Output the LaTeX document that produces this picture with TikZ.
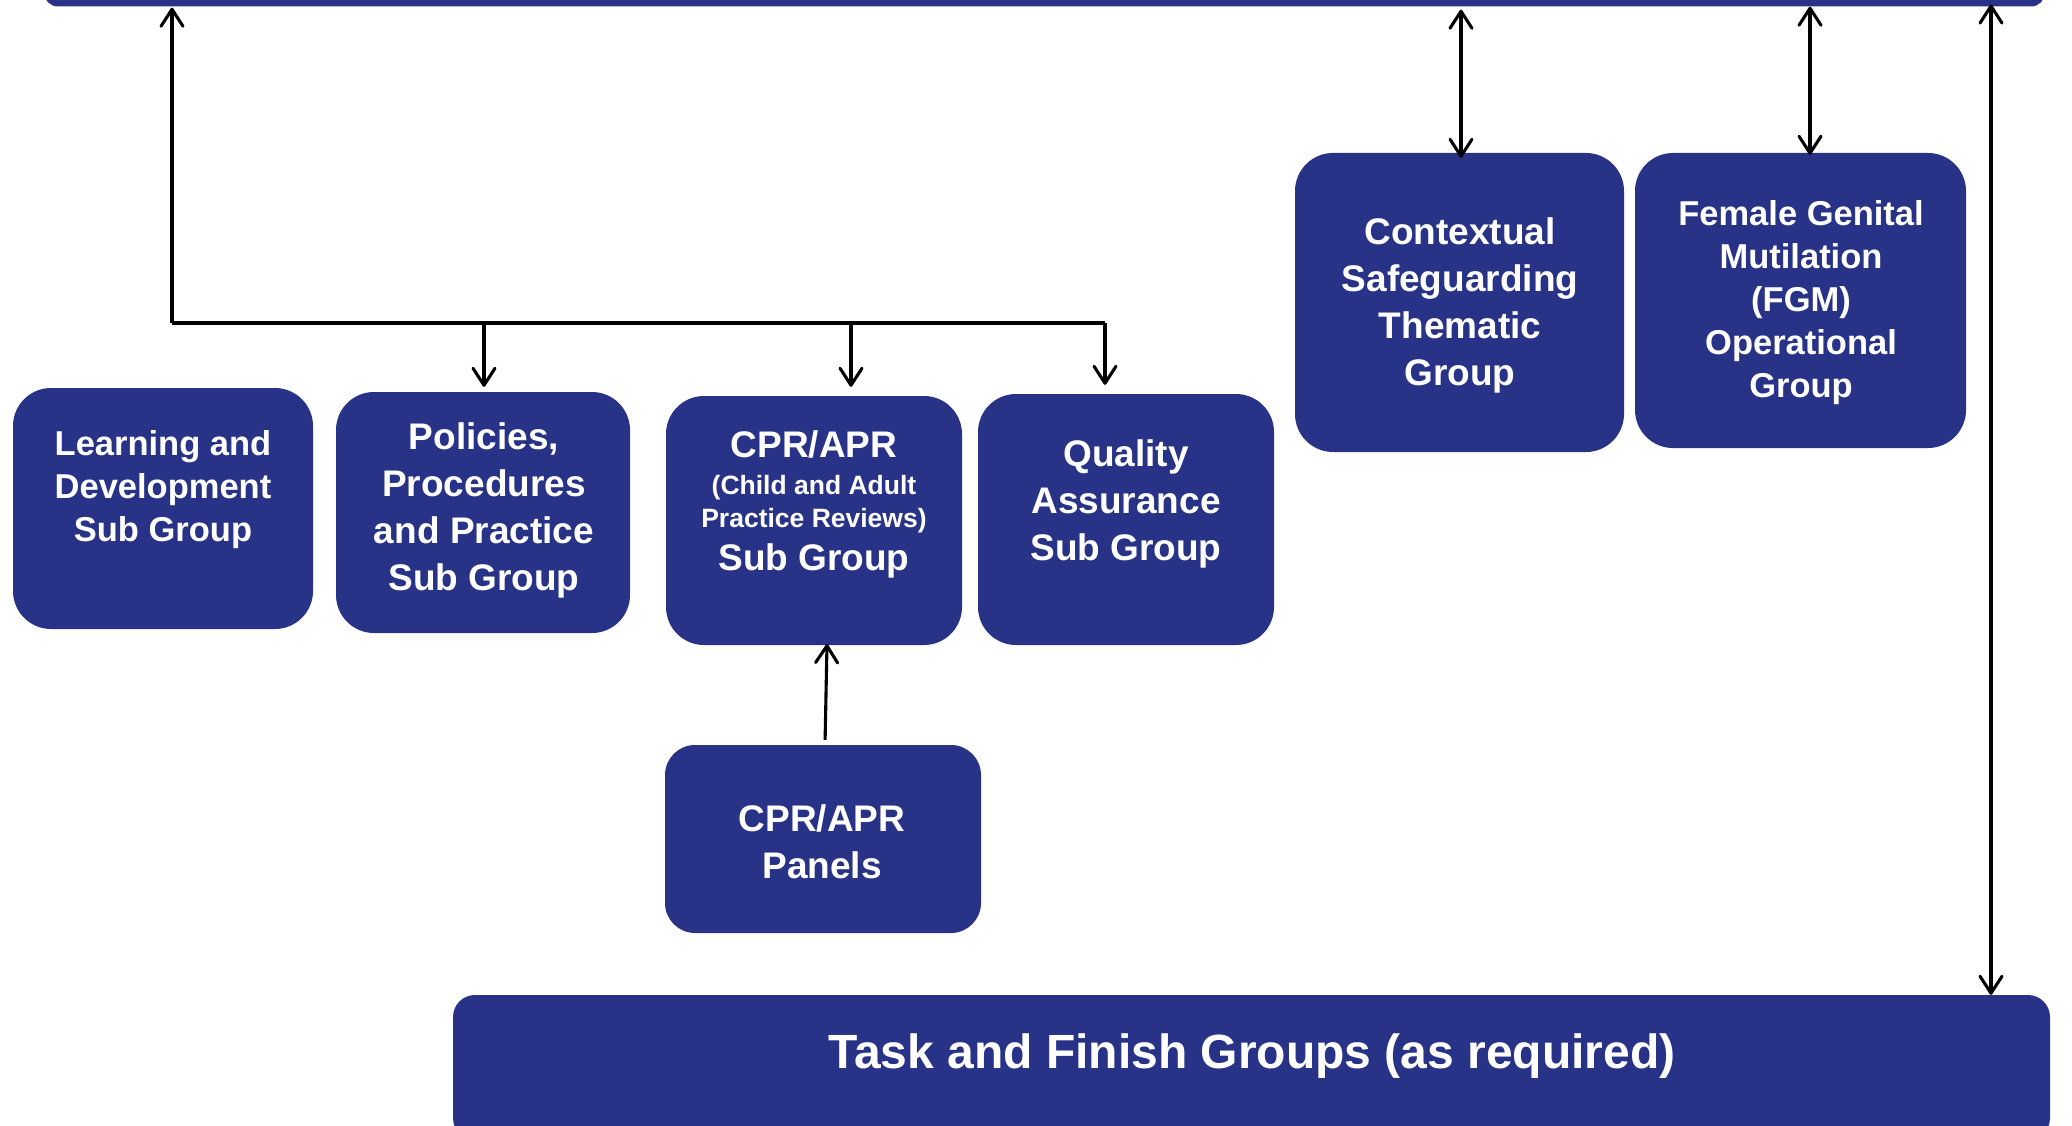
\documentclass[tikz,border=0pt]{standalone}
\usepackage{fontspec}
\setmainfont{Liberation Sans}
\usetikzlibrary{arrows.meta}
\definecolor{navy}{RGB}{40,51,135}
\begin{document}
\begin{tikzpicture}[x=1pt,y=-1pt,
  box/.style={fill=navy, rounded corners=38pt, inner sep=0pt},
  lbl/.style={text=white, align=center, font=\bfseries\fontsize{37}{47}\selectfont, inner sep=0pt},
  lbls/.style={lbl, font=\bfseries\fontsize{34.5}{43}\selectfont},
  tip/.tip={Straight Barb[length=17pt,width=22pt,line cap=round,line join=round]},
  arr/.style={line width=3.1pt, -tip},
  dbl/.style={line width=3.1pt, tip-tip},
  ln/.style={line width=3.1pt}]
\useasboundingbox (0,0) rectangle (2072,1126);

% top bar
\node[box, rounded corners=14pt, minimum width=2001pt, minimum height=46.5pt] (top) at (1044.5,-16.75) {};

% boxes
\node[box, minimum width=300pt, minimum height=241pt] (learn) at (163,508.5) {};
\node[box, minimum width=294pt, minimum height=241pt] (pol) at (483,512.5) {};
\node[box, minimum width=296pt, minimum height=249pt] (cpr) at (814,520.5) {};
\node[box, minimum width=296pt, minimum height=251pt] (qa) at (1126,519.5) {};
\node[box, minimum width=329pt, minimum height=299pt] (ctx) at (1459.5,302.5) {};
\node[box, minimum width=331pt, minimum height=295pt] (fgm) at (1800.5,300.5) {};
\node[box, minimum width=316pt, minimum height=188pt, rounded corners=30pt] (pan) at (823,839) {};
\node[box, minimum width=1597pt, minimum height=145pt, rounded corners=22pt] (task) at (1251.5,1067.5) {};

% labels
\node[lbls] (tlearn) at (163,490) {Learning and\\Development\\Sub Group};
\node[lbl] (tpol) at (484,510) {Policies,\\Procedures\\and Practice\\Sub Group};
\node[lbl] (tcpr1) at (814,444) {CPR/APR};
\node[lbl, font=\bfseries\fontsize{26.5}{33}\selectfont] (tcpr2) at (814,504) {(Child and Adult\\Practice Reviews)};
\node[lbl] (tcpr3) at (814,561) {Sub Group};
\node[lbl] (tqa) at (1126,504) {Quality\\Assurance\\Sub Group};
\node[lbl] (tctx) at (1460,305) {Contextual\\Safeguarding\\Thematic\\Group};
\node[lbls] (tfgm) at (1801,303) {Female Genital\\Mutilation\\(FGM)\\Operational\\Group};
\node[lbl] (tpan) at (822,842) {CPR/APR\\Panels};
\node[lbl, font=\bfseries\fontsize{48}{56}\selectfont] (ttask) at (1252,1056) {Task and Finish Groups (as required)};

% branch connectors
\coordinate (j1) at (172,323);
\coordinate (j2) at (484,323);
\coordinate (j3) at (851,323);
\coordinate (j4) at (1105,323);
\draw[arr] (j1) -- ([yshift=-1pt]j1 |- top.south);
\draw[ln] (j1) -- (j4);
\draw[arr, shorten >=5pt] (j2) -- (j2 |- pol.north);
\draw[arr, shorten >=9pt] (j3) -- (j3 |- cpr.north);
\draw[arr, shorten >=9pt] (j4) -- (j4 |- qa.north);

% panels to CPR
\draw[arr, shorten <=5pt] ([xshift=2pt]pan.north) -- ([xshift=13pt,yshift=1pt]cpr.south);

% double arrows to top bar
\draw[dbl, shorten <=3pt, shorten >=-5pt] ([xshift=1.5pt]ctx.north |- top.south) -- ([xshift=1.5pt]ctx.north);
\draw[dbl, shorten >=-2pt] ([xshift=9.5pt]fgm.north |- top.south) -- ([xshift=9.5pt]fgm.north);
\coordinate (rt) at (1991,6.5);
\draw[dbl, shorten <=-2pt] (rt) -- (rt |- task.north);
\end{tikzpicture}
\end{document}
